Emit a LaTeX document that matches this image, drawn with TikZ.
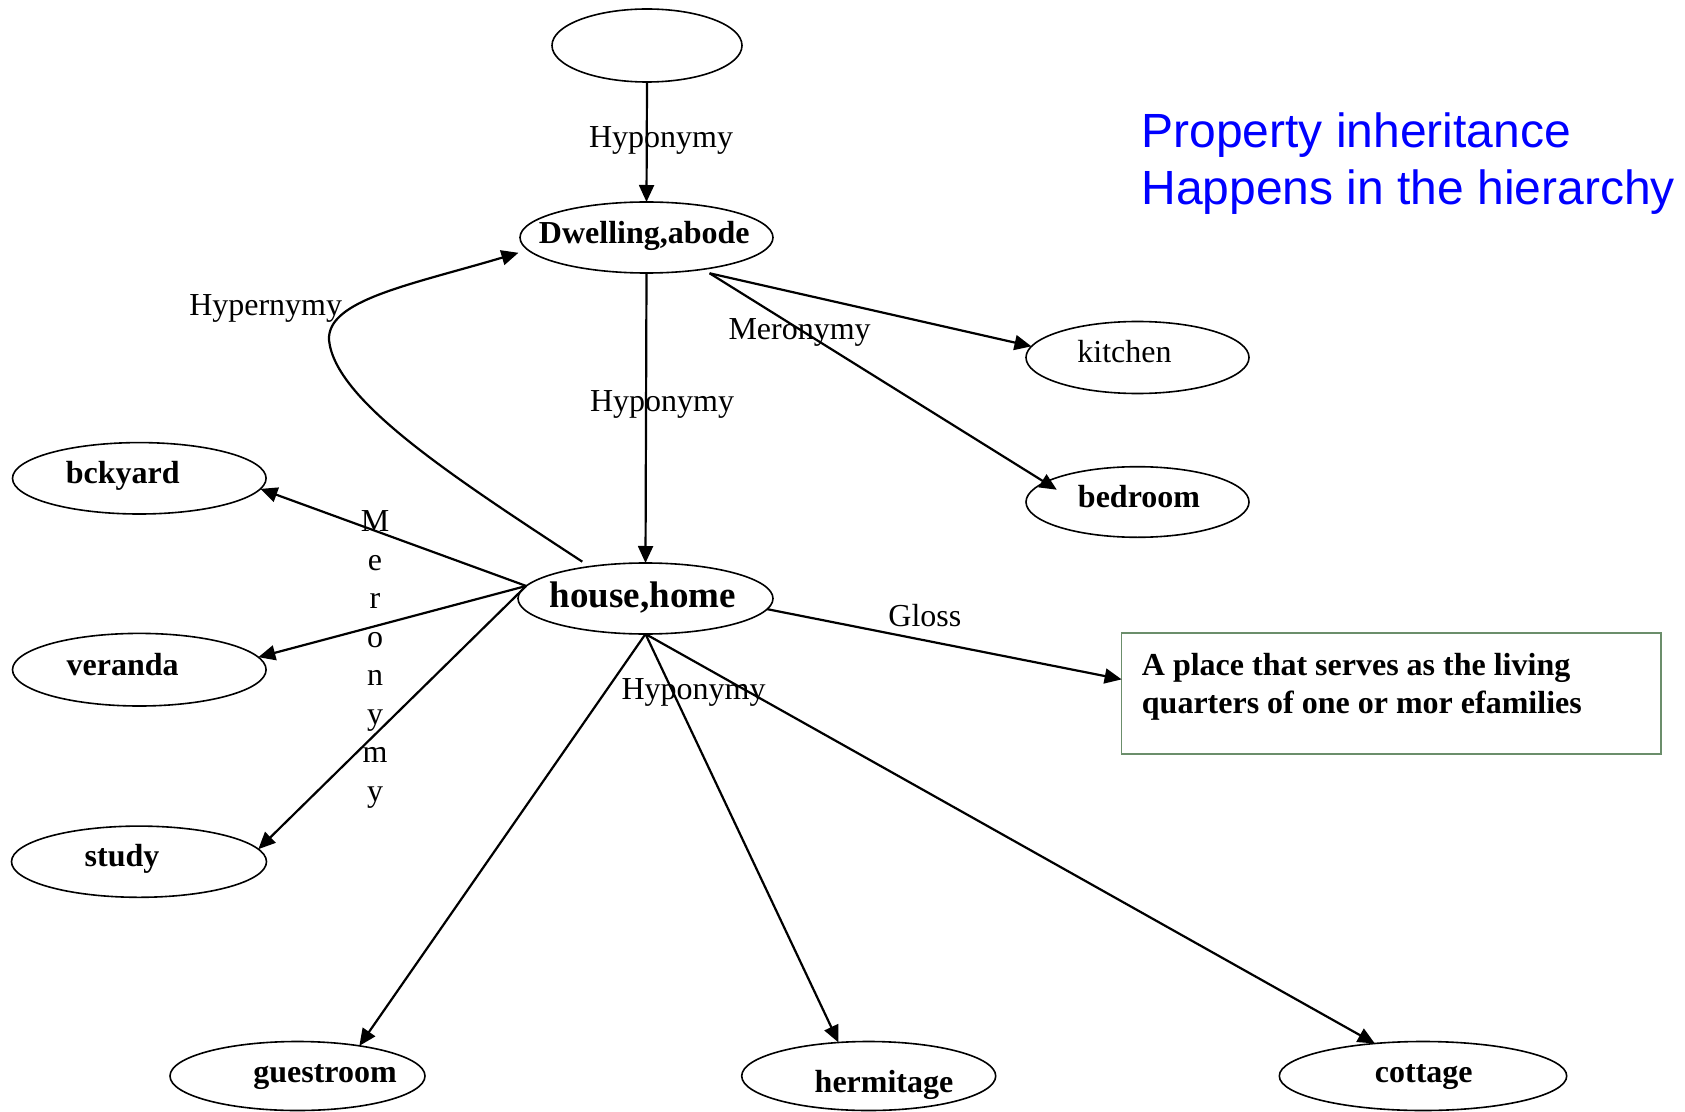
\documentclass[tikz,border=0pt]{standalone}
\usepackage{fontspec}
\setmainfont{Liberation Serif}
\newfontfamily\arialfont{Liberation Sans}
\usetikzlibrary{arrows.meta,shapes.geometric}
\definecolor{glossgreen}{RGB}{107,142,107}
\begin{document}
\begin{tikzpicture}[x=0.5pt,y=-0.5pt,
  ell/.style={draw, ellipse, line width=0.8pt, inner sep=0pt, outer sep=0pt},
  txt/.style={inner sep=0pt, anchor=base, font=\fontsize{16pt}{19pt}\selectfont},
  btxt/.style={inner sep=0pt, anchor=base, font=\fontsize{16pt}{19pt}\selectfont\bfseries},
  rel/.style={line width=1.1pt, -{Triangle[length=8.5pt,width=7.5pt]}}]
\useasboundingbox (0,0) rectangle (1685,1112);

% nodes
\node[ell, minimum width=95pt, minimum height=36.5pt] (top) at (647,45.5) {};
\node[ell, minimum width=126.5pt, minimum height=35.5pt] (dwell) at (646.5,237.5) {};
\node[btxt] (dwellT) at (644.3,243.5) {Dwelling,abode};
\node[ell, minimum width=127.5pt, minimum height=35.5pt] (house) at (645.5,598.5) {};
\node[btxt, font=\fontsize{18.5pt}{22pt}\selectfont\bfseries] (houseT) at (642.8,607.5) {house,home};
\node[ell, minimum width=111.5pt, minimum height=36pt] (kitchen) at (1137.5,357.5) {};
\node[txt] (kitchenT) at (1124.5,363) {kitchen};
\node[ell, minimum width=111.5pt, minimum height=35.3pt] (bedroom) at (1137.5,502) {};
\node[btxt] (bedroomT) at (1139,507.5) {bedroom};
\node[ell, minimum width=126.8pt, minimum height=35.7pt] (bckyard) at (139.3,478.3) {};
\node[btxt] (bckyardT) at (122.8,483.5) {bckyard};
\node[ell, minimum width=126.8pt, minimum height=36.3pt] (veranda) at (139.3,669.7) {};
\node[btxt] (verandaT) at (122.7,675) {veranda};
\node[ell, minimum width=127.5pt, minimum height=35.6pt] (study) at (139,861.7) {};
\node[btxt] (studyT) at (122,866) {study};
\node[ell, minimum width=127.5pt, minimum height=34.5pt] (guest) at (297.5,1076) {};
\node[btxt] (guestT) at (325,1082.5) {guestroom};
\node[ell, minimum width=127pt, minimum height=34.5pt] (hermit) at (868.7,1076) {};
\node[btxt] (hermitT) at (884,1092.5) {hermitage};
\node[ell, minimum width=143.7pt, minimum height=34.5pt] (cottage) at (1423,1076) {};
\node[btxt] (cottageT) at (1423.8,1082.5) {cottage};
\node[draw=glossgreen, line width=0.6pt, minimum width=269.7pt, minimum height=60.5pt, inner sep=0pt, outer sep=0pt] (gloss) at (1391.3,693.5) {};
\node[inner sep=0pt, anchor=base west, font=\fontsize{16pt}{19pt}\selectfont\bfseries] (glossT) at (1141.5,675)
  {\begin{tabular}[t]{@{}l@{}}A place that serves as the living\\quarters of one or mor efamilies\end{tabular}};
\node[inner sep=0pt, anchor=base west, text=blue, font=\arialfont\fontsize{24pt}{28.5pt}\selectfont] (note) at (1141,147.7)
  {\begin{tabular}[t]{@{}l@{}}Property inheritance\\Happens in the hierarchy\end{tabular}};

% connectors
\draw[rel] (top.south) -- (dwell.north);
\draw[rel] (dwell.south) -- (house.north);
\draw[rel] ([yshift=-2.5pt]dwell.-26) -- (kitchen.174);
\draw[rel, shorten >=-7pt] ([yshift=-2.5pt]dwell.-26) -- (bedroom.168);
\draw[rel, shorten >=5pt] ([yshift=3pt]house.154) .. controls (450,475) and (335,400) .. (329,340)
   .. controls (327,300) and (410,285) .. (dwell.186);
\draw[rel] (house.174) -- (bckyard.-5);
\draw[rel] (house.174) -- (veranda.6);
\draw[rel] (house.174) -- (study.6);
\draw[rel] (house.south) -- (guest.26);
\draw[rel] (house.south) -- (hermit.132);
\draw[rel] (house.south) -- (cottage.146);
\draw[rel] (house.-5) -- (gloss.177);

% connector labels
\node[txt] (h1) at (661,147.5) {Hyponymy};
\node[txt] (h2) at (662,411) {Hyponymy};
\node[txt] (h3) at (693.5,699) {Hyponymy};
\node[txt] (m1) at (799.6,340) {Meronymy};
\node[txt] (hy) at (265.7,316) {Hypernymy};
\node[txt, anchor=base west] (gl) at (888,626.5) {Gloss};
\node[txt, font=\fontsize{16pt}{19.25pt}\selectfont] (m2) at (375,531.7)
  {\begin{tabular}[t]{@{}c@{}}M\\e\\r\\o\\n\\y\\m\\y\end{tabular}};
\end{tikzpicture}
\end{document}
